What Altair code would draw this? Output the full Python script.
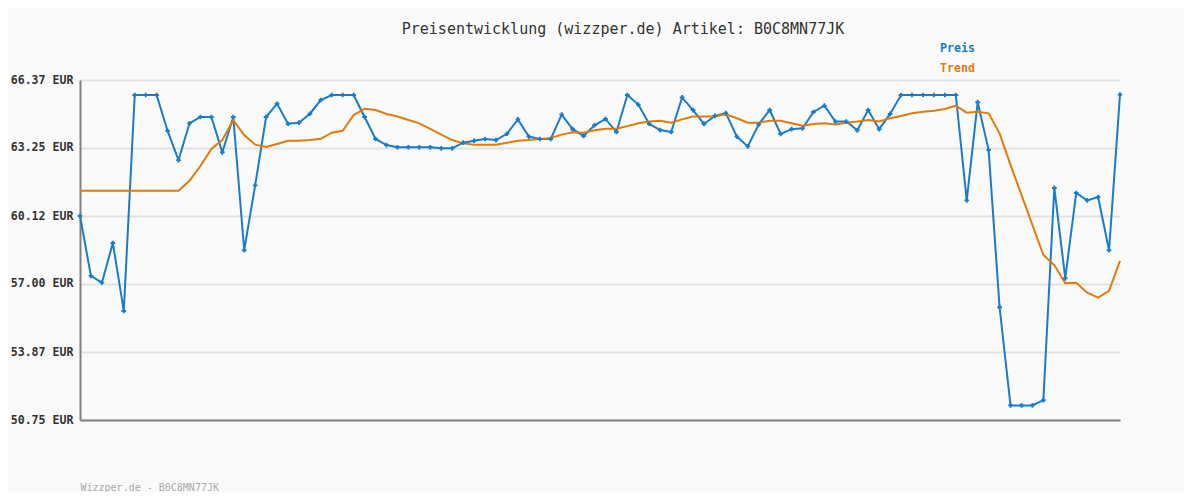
import altair as alt
import pandas as pd

# ---- data ----
series_names = ["Preis", "Trend"]
preis = [60.12, 57.37, 57.06, 58.88, 55.76, 65.68, 65.68, 65.68, 64.03, 62.69,
         64.38, 64.67, 64.67, 63.05, 64.67, 58.55, 61.53, 64.67, 65.28, 64.36,
         64.41, 64.82, 65.45, 65.68, 65.68, 65.68, 64.67, 63.66, 63.38, 63.28,
         63.28, 63.28, 63.28, 63.23, 63.23, 63.49, 63.58, 63.66, 63.61, 63.90,
         64.56, 63.77, 63.66, 63.66, 64.78, 64.11, 63.80, 64.29, 64.58, 63.98,
         65.68, 65.24, 64.35, 64.07, 63.98, 65.57, 64.99, 64.35, 64.72, 64.85,
         63.77, 63.32, 64.33, 64.99, 63.89, 64.11, 64.15, 64.90, 65.19, 64.46,
         64.46, 64.06, 64.99, 64.11, 64.81, 65.68, 65.68, 65.68, 65.68, 65.68,
         65.68, 60.84, 65.35, 63.15, 55.93, 51.42, 51.42, 51.42, 51.66, 61.41,
         57.26, 61.18, 60.84, 60.99, 58.55, 65.70]
trend = [61.28, 61.28, 61.28, 61.28, 61.28, 61.28, 61.28, 61.28, 61.28, 61.28,
         61.74, 62.42, 63.20, 63.61, 64.53, 63.84, 63.40, 63.29, 63.43, 63.58,
         63.58, 63.61, 63.67, 63.95, 64.04, 64.76, 65.05, 64.99, 64.81, 64.69,
         64.53, 64.38, 64.12, 63.86, 63.61, 63.46, 63.40, 63.40, 63.40, 63.49,
         63.58, 63.61, 63.66, 63.71, 63.86, 63.97, 63.95, 64.06, 64.13, 64.13,
         64.25, 64.38, 64.46, 64.50, 64.41, 64.56, 64.69, 64.69, 64.69, 64.79,
         64.61, 64.41, 64.41, 64.50, 64.50, 64.38, 64.27, 64.35, 64.38, 64.33,
         64.41, 64.46, 64.53, 64.46, 64.61, 64.72, 64.84, 64.91, 64.96, 65.04,
         65.19, 64.87, 64.91, 64.84, 63.92, 62.47, 61.09, 59.71, 58.33, 57.87,
         57.03, 57.06, 56.60, 56.37, 56.68, 58.06]
y_ticks = [50.75, 53.87, 57.00, 60.12, 63.25, 66.37]
title_text = "Preisentwicklung (wizzper.de) Artikel: B0C8MN77JK"
footer_text = "Wizzper.de - B0C8MN77JK"

BLUE = "#1a7cc8"
ORANGE = "#e07b0c"
MONO = "DejaVu Sans Mono"
series_colors = [BLUE, ORANGE]

rows = []
for name, vals in zip(series_names, [preis, trend]):
    for i, v in enumerate(vals):
        rows.append({"i": i, "value": v, "series": name})
df = pd.DataFrame(rows)

x_enc = alt.X(
    "i:Q",
    scale=alt.Scale(domain=[0, len(preis) - 1], nice=False, zero=False),
    axis=alt.Axis(labels=False, ticks=False, grid=False, title=footer_text,
                  titleAnchor="start", titleAlign="left", titleFont=MONO,
                  titleFontSize=10, titleFontWeight="normal", titleColor="#aaaaaa",
                  titlePadding=62, domainColor="#808080", domainWidth=2),
)
y_enc = alt.Y(
    "value:Q",
    scale=alt.Scale(domain=[y_ticks[0], y_ticks[-1]], nice=False, zero=False),
    axis=alt.Axis(values=y_ticks, format=".2f", labelExpr="datum.label + ' EUR'",
                  title=None, ticks=False, labelPadding=7, labelFont=MONO,
                  labelFontSize=11.6, labelFontWeight="bold", labelColor="#333333",
                  grid=True, gridColor="#e2e2e2", gridWidth=2,
                  domainColor="#808080", domainWidth=2),
)

color_enc = alt.Color(
    "series:N",
    scale=alt.Scale(domain=series_names, range=series_colors),
    legend=None,
)

lines = alt.Chart(df).mark_line(strokeWidth=2).encode(
    x=x_enc, y=y_enc, color=color_enc, order="i:Q"
)
points = alt.Chart(df).transform_filter(alt.datum.series == "Preis").mark_point(
    shape="cross", filled=True, size=22, color=BLUE, opacity=1
).encode(x=x_enc, y=y_enc)

# legend: coloured labels only, stacked at the top right
legend_layers = []
for k, (name, col) in enumerate(zip(series_names, series_colors)):
    legend_layers.append(
        alt.Chart(pd.DataFrame({"series": [name]})).mark_text(
            font=MONO, fontSize=11.6, fontWeight="bold", align="left",
            baseline="middle", color=col
        ).encode(text="series:N", x=alt.value(860), y=alt.value(-31 + 20 * k))
    )

chart = alt.layer(lines, points, *legend_layers).properties(
    width=1040, height=340,
    padding={"left": 72, "top": 72, "right": 64, "bottom": 72},
    autosize=alt.AutoSizeParams(type="none"),
    background="#fafafa",
    title=alt.TitleParams(title_text, font=MONO, fontSize=15, fontWeight="normal",
                          color="#333333", anchor="middle", dx=23, offset=6),
).configure_view(stroke=None)

chart.save("out.html", embed_options={"renderer": "svg", "actions": False})
